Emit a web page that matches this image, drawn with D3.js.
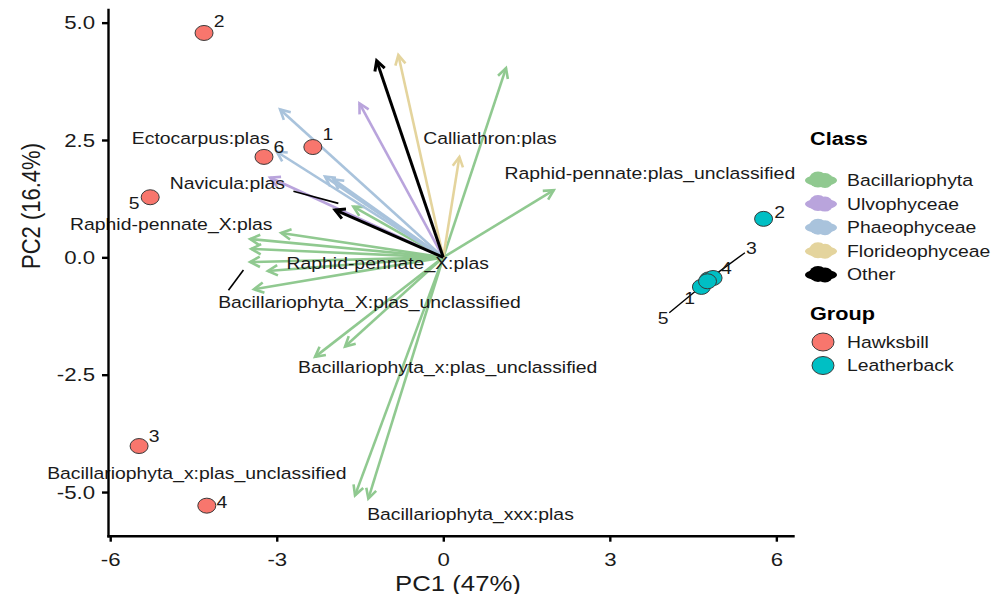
<!DOCTYPE html>
<html>
<head>
<meta charset="utf-8">
<script src="https://cdn.jsdelivr.net/npm/d3@7"></script>
<style>
  html, body { margin: 0; padding: 0; background: #fff; }
  svg { display: block; font-family: "Liberation Sans", Arial, Helvetica, sans-serif; }
</style>
</head>
<body>
<svg id="chart" width="992" height="594"></svg>
<script>
// ---- Sample scores (PC1, PC2) ----
const sampleGroup = ["Hawksbill","Hawksbill","Hawksbill","Hawksbill","Hawksbill","Hawksbill",
                     "Leatherback","Leatherback","Leatherback","Leatherback","Leatherback"];
const sampleId    = ["1","2","3","4","5","6","1","2","3","4","5"];
const samplePC1   = [-2.35, -4.31, -5.48, -4.26, -5.28, -3.23, 4.65, 5.77, 4.78, 4.86, 4.76];
const samplePC2   = [ 2.35,  4.78, -4.02, -5.29,  1.28,  2.14, -0.63, 0.82, -0.47, -0.44, -0.51];
// repelled label positions for sample ids
const sampleLabPC1 = [-2.08, -4.04, -5.21, -3.99, -5.57, -2.96, 4.44, 6.06, 5.55, 5.10, 3.96];
const sampleLabPC2 = [ 2.63,  5.04, -3.81, -5.21,  1.15,  2.35, -0.87, 0.97, 0.20, -0.23, -1.29];
const sampleSegment = [false, false, false, false, false, false, true, false, true, true, true];

// ---- Taxon loadings (arrow tips) ----
const arrowClass = ["Bacillariophyta","Bacillariophyta","Bacillariophyta","Bacillariophyta","Bacillariophyta",
                    "Bacillariophyta","Bacillariophyta","Bacillariophyta","Bacillariophyta","Bacillariophyta",
                    "Bacillariophyta","Bacillariophyta","Bacillariophyta",
                    "Ulvophyceae","Ulvophyceae",
                    "Phaeophyceae","Phaeophyceae","Phaeophyceae","Phaeophyceae",
                    "Florideophyceae","Florideophyceae",
                    "Other","Other"];
const arrowPC1 = [1.13, 1.99, -1.62, -2.92, -3.48, -3.46, -3.48, -3.16, -3.41, -2.31, -1.77, -1.59, -1.35,
                  -1.51, -3.12,
                  -2.94, -3.00, -2.13, -1.98,
                  -0.81, 0.29,
                  -1.20, -1.95];
const arrowPC2 = [4.03, 1.43, 1.08, 0.52, 0.39, 0.18, -0.10, -0.29, -0.68, -2.12, -1.90, -5.07, -5.14,
                  3.28, 1.70,
                  3.15, 2.25, 1.72, 1.66,
                  4.31, 2.14,
                  4.19, 1.01];

// ---- Taxon labels ----
const taxonLabel = ["Ectocarpus:plas", "Navicula:plas", "Raphid-pennate_X:plas", "Calliathron:plas",
                    "Raphid-pennate:plas_unclassified", "Raphid-pennate_X:plas",
                    "Bacillariophyta_X:plas_unclassified", "Bacillariophyta_x:plas_unclassified",
                    "Bacillariophyta_x:plas_unclassified", "Bacillariophyta_xxx:plas"];
const taxonLabPC1 = [-4.37, -3.89, -4.90, 0.84, 3.72, -1.00, -1.33, 0.08, -4.44, 0.49];
const taxonLabPC2 = [ 2.54,  1.58,  0.71, 2.54, 1.80, -0.12, -0.95, -2.34, -4.60, -5.46];
// leader segments: [x1, y1, x2, y2] in PC units, or null
const taxonSegment = [null, [-2.70, 1.41, -1.89, 1.15], null, null, null, null,
                      [-3.60, -0.27, -3.87, -0.70], null, null, null];

// ---- Axes / legends ----
const xTicks = [-6, -3, 0, 3, 6];
const yTicks = [-5, -2.5, 0, 2.5, 5];
const classNames  = ["Bacillariophyta","Ulvophyceae","Phaeophyceae","Florideophyceae","Other"];
const classColors = ["#90c990","#b9a4dc","#a9c3dc","#e4d49d","#000000"];
const groupNames  = ["Hawksbill","Leatherback"];
const groupColors = ["#F8766D","#00BFC4"];

const svg = d3.select("#chart");
const SX = 1.14;           // horizontal text stretch
const panel = {left: 108, right: 793, top: 9.5, bottom: 535.7};

const x = d3.scaleLinear().domain([-6.04, 6.30]).range([panel.left, panel.right]);
const y = d3.scaleLinear().domain([-5.93, 5.28]).range([panel.bottom, panel.top]);
const classColor = d3.scaleOrdinal().domain(classNames).range(classColors);
const groupColor = d3.scaleOrdinal().domain(groupNames).range(groupColors);

// tick formats with a plain hyphen for negatives
const fmtX = d => String(d3.format("d")(d)).replace("\u2212", "-");
const fmtY = d => String(d3.format(".1f")(d)).replace("\u2212", "-");

function txt(parent, s, px, py, opts = {}) {
  const t = parent.append("text")
    .attr("transform", `translate(${px},${py}) scale(${opts.sx || SX},1)`)
    .attr("text-anchor", opts.anchor || "middle")
    .attr("dy", opts.dy || "0.35em")
    .attr("font-size", opts.size || 17)
    .attr("fill", opts.fill || "#1a1a1a")
    .text(s);
  if (opts.bold) t.attr("font-weight", "bold");
  return t;
}

// ---- Arrows ----
const arrows = arrowClass.map((c, i) => ({c, px: arrowPC1[i], py: arrowPC2[i]}));
const order = ["Bacillariophyta","Ulvophyceae","Phaeophyceae","Florideophyceae","Other"];
arrows.sort((a, b) => order.indexOf(a.c) - order.indexOf(b.c));
const gArrows = svg.append("g");
const headLen = 11, headAng = 28 * Math.PI / 180;
arrows.forEach(a => {
  const x0 = x(0), y0 = y(0), x1 = x(a.px), y1 = y(a.py);
  const ang = Math.atan2(y1 - y0, x1 - x0);
  const w = a.c === "Other" ? 3 : 2.6;
  const col = classColor(a.c);
  gArrows.append("line")
    .attr("x1", x0).attr("y1", y0).attr("x2", x1).attr("y2", y1)
    .attr("stroke", col).attr("stroke-width", w);
  const p1 = [x1 - headLen * Math.cos(ang - headAng), y1 - headLen * Math.sin(ang - headAng)];
  const p2 = [x1 - headLen * Math.cos(ang + headAng), y1 - headLen * Math.sin(ang + headAng)];
  gArrows.append("path")
    .attr("d", `M${p1[0]},${p1[1]}L${x1},${y1}L${p2[0]},${p2[1]}`)
    .attr("fill", "none").attr("stroke", col).attr("stroke-width", w)
    .attr("stroke-linejoin", "miter");
});

// ---- Taxon labels ----
const gTax = svg.append("g");
taxonLabel.forEach((s, i) => {
  const seg = taxonSegment[i];
  if (seg) {
    gTax.append("line")
      .attr("x1", x(seg[0])).attr("y1", y(seg[1])).attr("x2", x(seg[2])).attr("y2", y(seg[3]))
      .attr("stroke", "#000").attr("stroke-width", 1.6);
  }
  txt(gTax, s, x(taxonLabPC1[i]), y(taxonLabPC2[i]), {size: 17});
});

// ---- Sample points ----
const gPts = svg.append("g");
sampleId.forEach((id, i) => {
  if (sampleSegment[i]) {
    const lx = x(sampleLabPC1[i]), ly = y(sampleLabPC2[i]);
    const px = x(samplePC1[i]), py = y(samplePC2[i]);
    const dx = lx - px, dy = ly - py, d = Math.hypot(dx, dy);
    const stop = d - 8;
    gPts.append("line")
      .attr("x1", px).attr("y1", py)
      .attr("x2", px + dx * stop / d).attr("y2", py + dy * stop / d)
      .attr("stroke", "#000").attr("stroke-width", 1.4);
  }
});
sampleId.forEach((id, i) => {
  gPts.append("ellipse")
    .attr("cx", x(samplePC1[i])).attr("cy", y(samplePC2[i]))
    .attr("rx", 9).attr("ry", 7.5)
    .attr("fill", groupColor(sampleGroup[i]))
    .attr("stroke", "#3a3a3a").attr("stroke-width", 1);
});
sampleId.forEach((id, i) => {
  txt(gPts, id, x(sampleLabPC1[i]), y(sampleLabPC2[i]), {size: 17});
});

// ---- Axes ----
const xAxis = svg.append("g")
  .attr("transform", `translate(0,${panel.bottom})`)
  .call(d3.axisBottom(x).tickValues(xTicks).tickSize(6).tickSizeOuter(0).tickFormat(fmtX));
const yAxis = svg.append("g")
  .attr("transform", `translate(${panel.left},0)`)
  .call(d3.axisLeft(y).tickValues(yTicks).tickSize(6).tickSizeOuter(0).tickFormat(fmtY));
[xAxis, yAxis].forEach(g => {
  g.select(".domain").attr("stroke", "#000").attr("stroke-width", 2.4).attr("stroke-linecap", "square");
  g.selectAll(".tick line").attr("stroke", "#000").attr("stroke-width", 2.4);
  g.selectAll(".tick text").attr("font-size", 19).attr("fill", "#1a1a1a")
    .attr("font-family", "'Liberation Sans', Arial, sans-serif");
});
xAxis.selectAll(".tick text").attr("y", null).attr("dy", null)
  .attr("transform", `translate(0,30) scale(${SX + 0.03},1)`);
yAxis.selectAll(".tick text").attr("x", null)
  .attr("transform", `translate(-13,0) scale(${SX + 0.03},1)`);

// Axis titles
txt(svg, "PC1 (47%)", 458, 583, {size: 22, sx: 1.17});
svg.append("text")
  .attr("transform", `translate(31,206) rotate(-90) scale(1,1.17)`)
  .attr("text-anchor", "middle").attr("dy", "0.35em")
  .attr("font-size", 22).attr("fill", "#1a1a1a")
  .text("PC2 (16.4%)");

// ---- Legends ----
const gLeg = svg.append("g");
txt(gLeg, "Class", 810, 138, {anchor: "start", size: 19, bold: true, fill: "#000"});
classNames.forEach((c, i) => {
  const cy = 180 + i * 23.6, cx = 821;
  const col = classColor(c);
  const k = gLeg.append("g").attr("fill", col);
  k.append("ellipse").attr("cx", cx).attr("cy", cy + 0.5).attr("rx", 16).attr("ry", 5.5);
  k.append("ellipse").attr("cx", cx - 3).attr("cy", cy - 0.5).attr("rx", 9).attr("ry", 8);
  k.append("ellipse").attr("cx", cx + 4).attr("cy", cy + 0.5).attr("rx", 8).attr("ry", 7.5);
  txt(gLeg, c, 847, cy, {anchor: "start", size: 17});
});
txt(gLeg, "Group", 810, 313, {anchor: "start", size: 19, bold: true, fill: "#000"});
groupNames.forEach((g, i) => {
  const cy = 342 + i * 23.5;
  gLeg.append("ellipse").attr("cx", 823).attr("cy", cy).attr("rx", 11).attr("ry", 9)
    .attr("fill", groupColor(g)).attr("stroke", "#3a3a3a").attr("stroke-width", 1);
  txt(gLeg, g, 847, cy, {anchor: "start", size: 17});
});
</script>
</body>
</html>
